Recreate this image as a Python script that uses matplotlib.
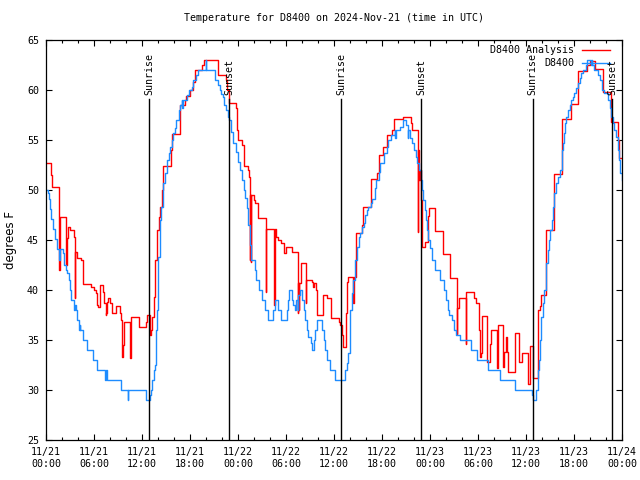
import datetime as dt
import matplotlib
matplotlib.use('Agg')
import matplotlib.pyplot as plt

# hours since 2024-11-21 00:00 UTC, temperature in F
analysis_hours = [0.0, 0.6, 0.8, 1.65, 1.7, 1.75, 1.8, 2.45, 2.55, 2.6, 2.8, 3.0, 3.5, 3.6, 3.65,
                  3.9, 4.4, 4.67, 5.67, 6.0, 6.2, 6.4, 6.5, 6.7, 7.08, 7.2, 7.3, 7.45, 7.55, 7.67,
                  7.8, 8.0, 8.2, 8.7, 9.25, 9.4, 9.5, 9.55, 9.6, 9.75, 10.4, 10.45, 10.6, 11.67,
                  12.5, 12.67, 13.0, 13.05, 13.1, 13.3, 13.55, 13.6, 13.85, 14.15, 14.25, 14.45,
                  14.65, 15.65, 15.7, 16.7, 16.8, 17.4, 17.5, 18.0, 18.4, 18.6, 19.5, 19.7, 21.5,
                  22.5, 22.67, 22.9, 23.7, 23.9, 24.0, 24.5, 24.7, 25.2, 25.4, 25.5, 25.55, 25.6,
                  25.65, 25.95, 26.1, 26.5, 27.5, 27.56, 28.55, 28.62, 28.8, 29.0, 29.4, 29.7,
                  29.96, 30.7, 30.8, 31.5, 31.55, 31.6, 31.65, 31.9, 32.5, 32.55, 33.2, 33.4, 33.5,
                  33.7, 33.9, 34.6, 35.1, 35.6, 36.6, 36.8, 36.96, 37.15, 37.55, 37.65, 37.8, 38.4,
                  38.5, 38.7, 39.5, 39.65, 40.65, 41.35, 41.65, 42.1, 42.65, 43.2, 43.55, 44.6,
                  45.65, 45.8, 46.5, 46.55, 46.65, 46.75, 46.9, 47.05, 47.35, 47.7, 47.9, 48.65,
                  49.6, 50.55, 51.35, 51.42, 51.6, 52.45, 52.52, 53.55, 53.75, 54.15, 54.22, 54.35,
                  54.55, 55.15, 55.45, 55.65, 56.42, 56.47, 57.1, 57.3, 57.55, 57.6, 57.7, 58.6,
                  59.15, 59.5, 60.2, 60.55, 60.85, 61.55, 61.75, 61.9, 62.45, 62.55, 63.55, 64.55,
                  65.65, 66.55, 67.6, 68.0, 68.6, 69.6, 70.6, 71.5, 71.6, 72.0]
analysis_temp = [52.7, 51.5, 50.3, 42.0, 47.3, 44.5, 47.3, 45.0, 42.5, 45.2, 46.3, 46.0, 45.3, 39.2, 43.8,
                 43.2, 43.0, 40.6, 40.3, 40.0, 39.7, 38.5, 38.3, 40.5, 39.8, 39.0, 38.7, 37.5, 37.7, 38.8,
                 39.2, 38.7, 37.7, 38.4, 37.7, 37.0, 34.5, 33.3, 34.5, 36.8, 36.8, 33.2, 37.3, 36.3,
                 36.8, 37.5, 36.7, 35.5, 36.0, 37.3, 39.3, 43.0, 46.0, 47.3, 48.3, 50.0,
                 52.4, 54.0, 55.6, 58.0, 58.5, 59.0, 59.4, 60.0, 60.8, 62.0, 62.5, 63.0, 61.5,
                 61.0, 60.0, 58.7, 58.2, 56.0, 55.0, 54.5, 52.4, 52.0, 51.3, 43.0, 49.5, 42.8,
                 49.5, 49.0, 48.7, 47.2, 39.8, 46.1, 38.5, 46.1, 45.3, 45.0, 44.7, 43.7,
                 44.3, 44.1, 43.8, 37.7, 40.7, 38.0, 40.7, 42.7, 38.7, 41.0, 40.8, 40.3, 40.7,
                 40.0, 37.5, 39.5, 39.2, 37.2, 36.8, 36.5, 35.5, 34.3, 37.7, 40.8, 41.3, 38.7,
                 41.3, 45.7, 46.5, 48.3, 51.1, 51.7, 53.5, 54.3, 55.5, 56.0, 57.1, 57.3,
                 56.7, 56.0, 45.8, 54.0, 51.0, 52.0, 49.0, 44.3, 44.8, 47.4, 48.2, 45.9,
                 43.6, 41.2, 35.6, 38.2, 39.2, 34.6, 39.8, 39.2, 38.7, 36.0, 33.3, 33.7,
                 37.4, 32.8, 34.6, 36.0, 32.2, 36.5, 32.3, 33.8, 35.3, 33.8, 31.8, 35.7,
                 32.8, 33.7, 30.6, 34.4, 31.2, 38.0, 38.4, 39.5, 40.5, 46.0, 51.6, 57.1,
                 58.6, 61.9, 62.5, 62.9, 62.1, 59.8, 56.8, 55.0, 53.2, 53.2]

obs_hours = [0.0, 0.25, 0.4, 0.5, 0.67, 0.92, 1.17, 1.33, 1.42, 1.65, 1.72, 2.08, 2.25, 2.5, 2.67,
             2.83, 3.0, 3.17, 3.5, 3.55, 3.6, 3.7, 3.9, 4.15, 4.2, 4.3, 4.67, 5.17, 5.92, 6.33,
             7.4, 7.5, 7.65, 9.4, 10.2, 10.3, 12.5, 12.95, 13.08, 13.3, 13.5, 13.65, 13.75, 13.8,
             13.85, 13.95, 14.02, 14.2, 14.4, 14.6, 14.85, 15.1, 15.35, 15.55, 15.7, 15.85, 16.1,
             16.3, 16.6, 16.8, 17.0, 17.05, 17.1, 17.6, 17.9, 18.2, 18.4, 18.7, 19.0, 19.95,
             20.05, 21.1, 21.5, 21.7, 21.9, 22.1, 22.3, 22.5, 22.7, 22.9, 23.1, 23.4, 23.7,
             23.95, 24.2, 24.45, 24.7, 24.9, 25.1, 25.3, 25.5, 25.65, 26.1, 26.3, 26.6, 27.0,
             27.35, 27.8, 28.4, 28.6, 29.0, 29.4, 30.1, 30.3, 30.4, 30.7, 30.9, 31.1, 31.3,
             31.5, 31.55, 31.75, 31.95, 32.2, 32.4, 32.6, 32.8, 33.1, 33.3, 33.45, 33.65, 33.85,
             34.5, 34.7, 34.9, 35.1, 35.5, 36.1, 37.4, 37.6, 37.8, 37.95, 38.05, 38.2, 38.4,
             38.65, 38.9, 39.1, 39.25, 39.5, 39.7, 39.9, 40.1, 40.3, 40.6, 40.8, 41.1, 41.3,
             41.6, 41.8, 42.2, 42.6, 42.8, 43.1, 43.6, 43.65, 43.7, 44.3, 44.6, 45.0, 45.2,
             45.25, 45.3, 45.5, 45.8, 46.0, 46.25, 46.4, 46.65, 46.85, 47.0, 47.15, 47.35, 47.5,
             47.65, 47.8, 47.95, 48.3, 48.6, 49.2, 49.7, 49.95, 50.2, 50.4, 50.8, 51.0, 51.3,
             51.75, 53.1, 53.9, 55.2, 56.7, 58.6, 60.8, 60.9, 61.3, 61.45, 61.6, 61.7, 61.9,
             62.1, 62.3, 62.45, 62.55, 62.7, 62.85, 63.05, 63.2, 63.35, 63.55, 63.75, 63.95,
             64.2, 64.25, 64.3, 64.45, 64.6, 64.75, 64.9, 65.05, 65.25, 65.45, 65.65, 65.85,
             66.05, 66.25, 66.45, 66.7, 66.9, 67.15, 67.45, 67.65, 68.15, 68.2, 68.25, 68.45,
             68.95, 69.2, 69.45, 69.7, 70.2, 70.45, 70.65, 70.85, 71.05, 71.25, 71.45, 71.6,
             71.75, 72.0]
obs_temp = [50.0, 49.7, 49.1, 48.1, 47.1, 46.1, 45.1, 44.6, 44.1, 43.0, 44.1, 43.7, 42.5, 42.0, 41.7,
            41.0, 40.0, 39.0, 38.5, 38.0, 38.5, 38.0, 37.0, 36.0, 36.5, 36.0, 35.0, 34.0, 33.0, 32.0,
            31.0, 32.0, 31.0, 30.0, 29.0, 30.0, 29.0, 29.5, 30.0, 31.0, 32.0, 32.5, 34.0, 36.0,
            38.0, 40.7, 43.3, 47.0, 48.3, 50.7, 51.7, 53.0, 53.7, 54.3, 55.0, 55.7, 56.2,
            57.0, 58.0, 58.5, 59.0, 58.2, 59.0, 59.5, 60.0, 60.3, 61.0, 61.5, 62.0, 63.0,
            62.0, 61.0, 60.5, 60.0, 59.6, 59.3, 58.5, 58.0, 57.3, 57.0, 55.8, 54.7, 53.8,
            52.8, 52.0, 51.0, 50.0, 49.2, 48.2, 46.5, 44.5, 43.0, 42.0, 41.0, 40.0, 39.0,
            38.0, 37.0, 38.0, 39.0, 38.0, 37.0, 38.0, 39.0, 40.0, 39.0, 38.5, 38.0, 39.0,
            38.0, 39.5, 40.0, 39.0, 38.0, 37.0, 36.0, 35.3, 34.7, 34.0, 35.0, 36.0, 37.0,
            36.0, 35.0, 34.0, 33.0, 32.0, 31.0, 32.0, 32.7, 33.7, 36.3, 38.0, 39.7, 41.0,
            43.0, 44.3, 45.3, 45.7, 46.3, 46.7, 47.5, 48.0, 48.3, 48.7, 49.1, 50.2, 51.0,
            51.8, 52.7, 53.7, 54.3, 55.0, 55.5, 56.0, 55.2, 56.0, 56.3, 57.0, 56.5, 56.0,
            55.2, 56.0, 55.2, 54.7, 54.0, 53.3, 52.7, 52.0, 51.0, 50.0, 49.0, 48.0, 47.0,
            46.0, 45.0, 44.2, 43.0, 42.0, 41.0, 40.0, 39.0, 38.0, 37.5, 37.0, 36.0, 35.5,
            35.0, 34.0, 33.0, 32.0, 31.0, 30.0, 29.5, 29.0, 30.0, 32.0, 33.0, 35.0, 37.3,
            38.7, 40.0, 40.7, 42.7, 44.0, 45.0, 46.0, 47.0, 48.3, 49.7, 50.7, 51.3,
            52.0, 51.5, 52.0, 54.0, 54.7, 55.7, 56.7, 57.3, 58.0, 58.5, 59.0, 59.3,
            59.7, 60.2, 60.7, 61.2, 61.7, 62.0, 62.5, 63.0, 62.5, 63.0, 62.5, 62.0,
            61.5, 61.0, 60.0, 59.7, 59.0, 58.2, 57.3, 56.7, 56.0, 55.3, 54.0, 53.0,
            51.7, 51.0]

sun_events = ['Sunrise', 'Sunset', 'Sunrise', 'Sunset', 'Sunrise', 'Sunset']
sun_hours = [12.9, 22.9, 36.9, 46.9, 60.85, 70.8]

start = dt.datetime(2024, 11, 21)
tick_hours = list(range(0, 73, 6))
tick_labels = [(start + dt.timedelta(hours=h)).strftime('%m/%d\n%H:%M') for h in tick_hours]

MONO = 'DejaVu Sans Mono'
FS = 7.2
RED = '#ff0000'
BLUE = '#1e8cff'

fig = plt.figure(figsize=(6.4, 4.8), dpi=100)
ax = fig.add_axes([46 / 640, 40 / 480, 576 / 640, 400 / 480])

ax.plot(analysis_hours, analysis_temp, drawstyle='steps-post', color=RED, lw=1.0)
ax.plot(obs_hours, obs_temp, drawstyle='steps-post', color=BLUE, lw=1.0)

for name, h in zip(sun_events, sun_hours):
    ax.axvline(h, ymin=0, ymax=0.8525, color='black', lw=1.0)
    ax.text(h, 0.862, name, transform=ax.get_xaxis_transform(), rotation=90,
            ha='center', va='bottom', fontsize=FS, family=MONO)

ax.set_xlim(0, 72)
ax.set_ylim(25, 65)
ax.set_xticks(tick_hours)
ax.set_xticklabels(tick_labels, family=MONO, fontsize=FS, linespacing=1.3)
ax.set_xticks(range(0, 73, 2), minor=True)
ax.set_yticks(range(25, 66, 5))
ax.set_yticklabels([str(v) for v in range(25, 66, 5)], family=MONO, fontsize=FS)
ax.tick_params(which='both', direction='in', top=True, right=True, color='black')
ax.tick_params(which='major', length=4, width=0.8)
ax.tick_params(which='minor', length=2.5, width=0.8)
ax.tick_params(axis='y', pad=5)
ax.tick_params(axis='x', pad=5)
for s in ax.spines.values():
    s.set_linewidth(0.9)

ax.set_ylabel('degrees F', fontsize=8.5, family='DejaVu Sans')
ax.yaxis.set_label_coords(-0.05, 0.5)
ax.set_title('Temperature for D8400 on 2024-Nov-21 (time in UTC)', fontsize=FS, family=MONO, pad=14)

# legend, gnuplot style: text right aligned, sample to the right
tr = ax.transAxes
for i, (lab, col) in enumerate([('D8400 Analysis', RED), ('D8400', BLUE)]):
    yy = 0.975 - i * 0.032
    ax.text(0.9167, yy, lab, transform=tr, ha='right', va='center', fontsize=FS, family=MONO)
    ax.plot([0.9306, 0.979], [yy, yy], transform=tr, color=col, lw=1.0)

fig.savefig('out.png', dpi=100)
